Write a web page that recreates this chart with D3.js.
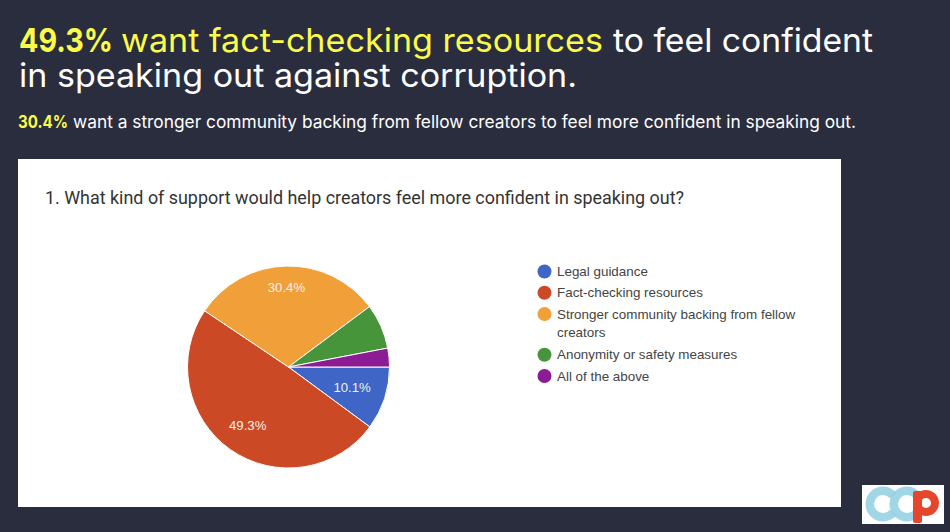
<!DOCTYPE html>
<html lang="en">
<head>
    <meta charset="UTF-8">
    <title>Creator support pie</title>
    <script src="https://d3js.org/d3.v7.min.js"></script>
    <style>
        html, body { margin: 0; padding: 0; background: #2a2d3e; }
        svg { display: block; }
        .head { font-family: "Inter", "Lato", sans-serif; }
        .question { font-family: "Roboto", sans-serif; font-size: 17.5px; fill: #333; }
        .legend-label { font-family: "Liberation Sans", Arial, sans-serif; font-size: 13.4px; fill: #444; }
        .slice-label { font-family: "Liberation Sans", Arial, sans-serif; font-size: 13.2px; fill: #f4f0ea; text-anchor: middle; }
    </style>
</head>
<body>
<svg id="chart" width="950" height="532"></svg>
<script>
    // values
    const categories = ['Legal guidance', 'Fact-checking resources', 'Stronger community backing from fellow creators', 'Anonymity or safety measures', 'All of the above'];
    const shares = [10.1, 49.3, 30.4, 7.2, 3.0];
    const sliceColors = ['#3f65c6', '#cb4a25', '#f19f38', '#47953a', '#8c1b96'];
    const labelledSlices = [0, 1, 2];

    const svg = d3.select('#chart');
    const yellow = '#fbfb4a';

    // heading, widths pinned because the original font is not installed
    const headRuns = [
        {t: '49.3%', x: 19, y: 52, w: 94, size: 33, weight: 700, fill: yellow},
        {t: 'want fact-checking resources', x: 121, y: 52, w: 482, size: 33, weight: 400, fill: yellow},
        {t: 'to feel confident', x: 613, y: 52, w: 260, size: 33, weight: 400, fill: '#fff'},
        {t: 'in speaking out against corruption.', x: 19, y: 87, w: 558, size: 33, weight: 400, fill: '#fff'},
        {t: '30.4%', x: 18, y: 128, w: 50, size: 17.5, weight: 700, fill: yellow},
        {t: 'want a stronger community backing from fellow creators to feel more confident in speaking out.', x: 73, y: 128, w: 783, size: 17.5, weight: 400, fill: '#fff'}
    ];
    svg.selectAll('text.head').data(headRuns).enter().append('text')
        .attr('class', 'head')
        .attr('x', d => d.x).attr('y', d => d.y)
        .attr('textLength', d => d.w).attr('lengthAdjust', 'spacingAndGlyphs')
        .attr('font-size', d => d.size).attr('font-weight', d => d.weight)
        .attr('fill', d => d.fill)
        .text(d => d.t);

    // white card
    svg.append('rect').attr('x', 18).attr('y', 159).attr('width', 823).attr('height', 348).attr('fill', '#fff');
    svg.append('text').attr('class', 'question').attr('x', 45).attr('y', 203.5)
        .attr('textLength', 639).attr('lengthAdjust', 'spacingAndGlyphs')
        .text('1. What kind of support would help creators feel more confident in speaking out?');

    // pie
    const cx = 288.5, cy = 367, radius = 101;
    const color = d3.scaleOrdinal().domain(categories).range(sliceColors);
    const pie = d3.pie().sort(null).startAngle(Math.PI / 2).endAngle(Math.PI * 2.5);
    const arcs = pie(shares);
    const arc = d3.arc().innerRadius(0).outerRadius(radius);
    const g = svg.append('g').attr('transform', `translate(${cx},${cy})`);

    g.selectAll('path').data(arcs).enter().append('path')
        .attr('d', arc)
        .attr('fill', (d, i) => color(categories[i]))
        .attr('stroke', '#fff').attr('stroke-width', 1);

    const labelRadius = {0: 67, 1: 71, 2: 80};
    g.selectAll('text').data(labelledSlices).enter().append('text')
        .attr('class', 'slice-label')
        .attr('transform', i => {
            const c = d3.arc().innerRadius(labelRadius[i]).outerRadius(labelRadius[i]).centroid(arcs[i]);
            return `translate(${c[0]},${c[1] + 4.5})`;
        })
        .text(i => shares[i].toFixed(1) + '%');

    // legend, the third entry wraps on two lines
    const legendLines = [['Legal guidance'], ['Fact-checking resources'], ['Stronger community backing from fellow', 'creators'], ['Anonymity or safety measures'], ['All of the above']];
    const legendRow = 21.3, legendTop = 271.5;
    let row = 0;
    const legend = svg.append('g');
    legendLines.forEach((lines, i) => {
        const y = legendTop + row * legendRow - (row > 3 ? 2 : 0);
        legend.append('circle').attr('cx', 544.5).attr('cy', y).attr('r', 7).attr('fill', color(categories[i]));
        lines.forEach((line, j) => {
            legend.append('text').attr('class', 'legend-label')
                .attr('x', 557).attr('y', y + 4.5 + j * 18)
                .text(line);
        });
        row += lines.length;
    });

    // logo, bottom right
    const logo = svg.append('g');
    logo.append('rect').attr('x', 862).attr('y', 485).attr('width', 82).attr('height', 39).attr('fill', '#fff');
    const ring = d3.arc().innerRadius(9).outerRadius(17.5).startAngle(Math.PI * 0.72).endAngle(Math.PI * 2.28);
    [883, 907].forEach(x => {
        logo.append('path').attr('d', ring()).attr('transform', `translate(${x},504)`).attr('fill', '#8fcfe0').attr('fill-opacity', 0.85);
    });
    logo.append('rect').attr('x', 913).attr('y', 491).attr('width', 9).attr('height', 32).attr('rx', 2).attr('fill', '#e5472c');
    logo.append('circle').attr('cx', 926).attr('cy', 503).attr('r', 9).attr('fill', 'none').attr('stroke', '#e5472c').attr('stroke-width', 8);
</script>
</body>
</html>
